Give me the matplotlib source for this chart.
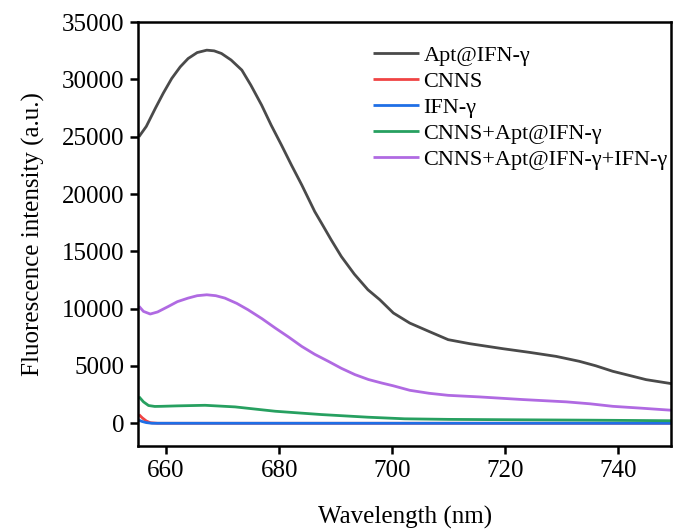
import matplotlib
matplotlib.use("Agg")
import matplotlib.pyplot as plt

# ── Data (wavelength in nm, intensity in a.u.) ─────────────────────────────
wl_apt = [655.2, 656.5, 658.1, 659.5, 661.0, 662.5, 663.9, 665.5, 667.2, 668.5,
          669.8, 671.5, 673.4, 675.0, 676.9, 678.6, 680.4, 682.2, 684.0, 686.3,
          687.5, 689.2, 691.0, 693.3, 695.7, 697.8, 700.2, 703.1, 706.5, 709.9,
          713.7, 719.6, 724.3, 729.0, 733.1, 736.0, 739.0, 742.0, 744.9, 749.9]
fl_apt = [25000, 25900, 27480, 28800, 30090, 31100, 31830, 32350, 32560, 32500,
          32270, 31700, 30820, 29500, 27760, 26000, 24280, 22500, 20790, 18460,
          17450, 16000, 14540, 13000, 11640, 10770, 9610, 8730, 8000, 7280,
          6930, 6490, 6170, 5820, 5390, 5000, 4520, 4150, 3790, 3400]

wl_cnns = [655.2, 655.8, 656.5, 657.2, 658.5, 700.0, 749.9]
fl_cnns = [740, 450, 180, 30, -20, -20, -20]

wl_ifn = [655.2, 655.8, 656.5, 657.5, 700.0, 749.9]
fl_ifn = [250, 130, 40, -20, -20, -20]

wl_cnns_apt = [655.2, 656.0, 656.9, 658.0, 659.2, 662.0, 666.9, 672.2, 679.3,
               687.5, 695.7, 702.2, 710.0, 720.0, 735.0, 749.9]
fl_cnns_apt = [2300, 1850, 1530, 1450, 1460, 1500, 1550, 1410, 1030,
               740, 510, 370, 320, 290, 250, 200]

wl_all = [655.2, 656.0, 657.2, 658.5, 660.4, 662.0, 663.9, 665.5, 667.2, 668.8,
          670.4, 672.5, 674.5, 677.0, 679.3, 681.7, 684.0, 686.3, 688.7, 691.0,
          693.4, 695.8, 698.1, 700.2, 703.1, 706.5, 709.9, 715.5, 723.1, 730.8,
          735.0, 739.0, 744.0, 749.9]
fl_all = [10200, 9750, 9520, 9700, 10180, 10600, 10910, 11120, 11200, 11120,
          10910, 10450, 9890, 9100, 8300, 7500, 6690, 6000, 5390, 4780,
          4230, 3800, 3500, 3250, 2860, 2600, 2420, 2280, 2050, 1850,
          1680, 1460, 1300, 1100]

series = [
    ("Apt@IFN-γ", wl_apt, fl_apt, "#4a4a4a"),
    ("CNNS", wl_cnns, fl_cnns, "#f04444"),
    ("IFN-γ", wl_ifn, fl_ifn, "#1f6fe6"),
    ("CNNS+Apt@IFN-γ", wl_cnns_apt, fl_cnns_apt, "#27a060"),
    ("CNNS+Apt@IFN-γ+IFN-γ", wl_all, fl_all, "#b06ae2"),
]

x_ticks = [660, 680, 700, 720, 740]
y_ticks = [0, 5000, 10000, 15000, 20000, 25000, 30000, 35000]

plt.rcParams["font.family"] = ["Liberation Serif", "DejaVu Serif"]

fig = plt.figure(figsize=(6.75, 5.29), dpi=100)
ax = fig.add_axes([0.205, 0.157, 0.789, 0.801])

for label, x, y, c in series:
    ax.plot(x, y, color=c, lw=2.0, label=label, solid_capstyle="butt",
            solid_joinstyle="round")

ax.set_xlim(655.1, 749.3)
ax.set_ylim(-2000, 35000)
ax.set_xticks(x_ticks)
ax.set_yticks(y_ticks)
ax.tick_params(labelsize=18, width=1.8, length=6, direction="out", pad=4)
for s in ax.spines.values():
    s.set_linewidth(1.8)

ax.set_xlabel("Wavelength (nm)", fontsize=18, labelpad=17)
ax.set_ylabel("Fluorescence intensity (a.u.)", fontsize=18, labelpad=12)

ax.legend(loc="upper left", bbox_to_anchor=(0.44, 0.945), frameon=False,
          fontsize=16, handlelength=2.1, handletextpad=0.18,
          labelspacing=0.24, borderpad=0, borderaxespad=0)

fig.savefig("out.png", dpi=100)
